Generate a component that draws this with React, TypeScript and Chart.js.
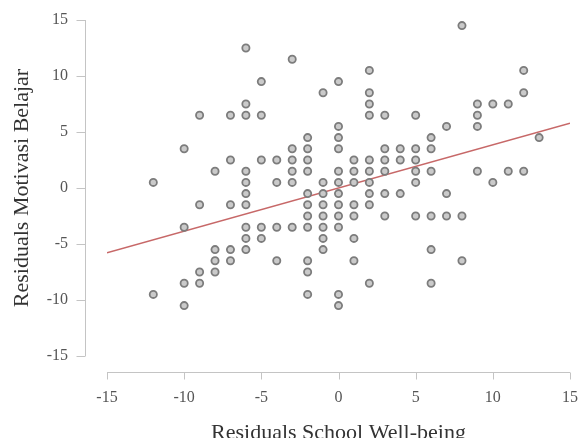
import React, { useEffect, useRef } from "react";
import { Chart, registerables } from "chart.js";

Chart.register(...registerables);

// Residuals School Well-being (x) and Residuals Motivasi Belajar (y)
const xValues: number[] = [
  -12, -12,
  -10, -10, -10, -10,
  -9, -9, -9, -9,
  -8, -8, -8, -8,
  -7, -7, -7, -7, -7,
  -6, -6, -6, -6, -6, -6, -6, -6, -6, -6,
  -5, -5, -5, -5, -5,
  -4, -4, -4, -4,
  -3, -3, -3, -3, -3, -3,
  -2, -2, -2, -2, -2, -2, -2, -2, -2, -2, -2,
  -1, -1, -1, -1, -1, -1, -1, -1,
  0, 0, 0, 0, 0, 0, 0, 0, 0, 0, 0, 0,
  1, 1, 1, 1, 1, 1, 1,
  2, 2, 2, 2, 2, 2, 2, 2, 2, 2,
  3, 3, 3, 3, 3, 3,
  4, 4, 4,
  5, 5, 5, 5, 5, 5,
  6, 6, 6, 6, 6, 6,
  7, 7, 7,
  8, 8, 8,
  9, 9, 9, 9,
  10, 10,
  11, 11,
  12, 12, 12,
  13,
];

const yValues: number[] = [
  0.5, -9.5,
  3.5, -3.5, -8.5, -10.5,
  6.5, -1.5, -7.5, -8.5,
  1.5, -5.5, -6.5, -7.5,
  6.5, 2.5, -1.5, -5.5, -6.5,
  12.5, 7.5, 6.5, 1.5, 0.5, -0.5, -1.5, -3.5, -4.5, -5.5,
  9.5, 6.5, 2.5, -3.5, -4.5,
  2.5, 0.5, -3.5, -6.5,
  11.5, 3.5, 2.5, 1.5, 0.5, -3.5,
  4.5, 3.5, 2.5, 1.5, -0.5, -1.5, -2.5, -3.5, -6.5, -7.5, -9.5,
  8.5, 0.5, -0.5, -1.5, -2.5, -3.5, -4.5, -5.5,
  9.5, 5.5, 4.5, 3.5, 1.5, 0.5, -0.5, -1.5, -2.5, -3.5, -9.5, -10.5,
  2.5, 1.5, 0.5, -1.5, -2.5, -4.5, -6.5,
  10.5, 8.5, 7.5, 6.5, 2.5, 1.5, 0.5, -0.5, -1.5, -8.5,
  6.5, 3.5, 2.5, 1.5, -0.5, -2.5,
  3.5, 2.5, -0.5,
  6.5, 3.5, 2.5, 1.5, 0.5, -2.5,
  4.5, 3.5, 1.5, -2.5, -5.5, -8.5,
  5.5, -0.5, -2.5,
  14.5, -2.5, -6.5,
  7.5, 6.5, 5.5, 1.5,
  7.5, 0.5,
  7.5, 1.5,
  10.5, 8.5, 1.5,
  4.5,
];

// Regression line end points
const fitX: number[] = [-15, 15];
const fitY: number[] = [-5.78, 5.78];

const xTicks: number[] = [-15, -10, -5, 0, 5, 10, 15];
const yTicks: number[] = [-15, -10, -5, 0, 5, 10, 15];

const xTitle = "Residuals School Well-being";
const yTitle = "Residuals Motivasi Belajar";

const FONT = "'Liberation Serif', 'Times New Roman', serif";

const axesPlugin = {
  id: "detachedAxes",
  afterDraw(chart: any) {
    const { ctx, chartArea } = chart;
    const xs = chart.scales.x;
    const ys = chart.scales.y;
    ctx.save();
    ctx.strokeStyle = "#c4c4c4";
    ctx.lineWidth = 1;
    const yLineX = Math.round(chartArea.left - 22) + 0.5;
    const xLineY = Math.round(chartArea.bottom + 16) + 0.5;
    ctx.beginPath();
    ctx.moveTo(yLineX, ys.getPixelForValue(yTicks[yTicks.length - 1]));
    ctx.lineTo(yLineX, ys.getPixelForValue(yTicks[0]));
    yTicks.forEach((v) => {
      const p = Math.round(ys.getPixelForValue(v)) + 0.5;
      ctx.moveTo(yLineX - 9, p);
      ctx.lineTo(yLineX, p);
    });
    ctx.moveTo(xs.getPixelForValue(xTicks[0]), xLineY);
    ctx.lineTo(xs.getPixelForValue(xTicks[xTicks.length - 1]), xLineY);
    xTicks.forEach((v) => {
      const p = Math.round(xs.getPixelForValue(v)) + 0.5;
      ctx.moveTo(p, xLineY);
      ctx.lineTo(p, xLineY + 7);
    });
    ctx.stroke();
    ctx.restore();
  },
};

export default function App() {
  const canvasRef = useRef<HTMLCanvasElement | null>(null);

  useEffect(() => {
    const canvas = canvasRef.current;
    if (!canvas) return;
    const points = xValues.map((x, i) => ({ x, y: yValues[i] }));
    const line = fitX.map((x, i) => ({ x, y: fitY[i] }));
    const chart = new Chart(canvas, {
      type: "scatter",
      data: {
        datasets: [
          {
            type: "line",
            data: line,
            borderColor: "rgba(196,96,96,0.95)",
            borderWidth: 1.6,
            pointRadius: 0,
            fill: false,
            order: 2,
          } as any,
          {
            data: points,
            pointRadius: 3.6,
            pointBorderWidth: 1.8,
            pointBackgroundColor: "#cacaca",
            pointBorderColor: "#7c7c7c",
            order: 1,
          },
        ],
      },
      options: {
        responsive: false,
        animation: false,
        layout: { padding: { top: 20, right: 9, left: 0, bottom: 0 } },
        plugins: {
          legend: { display: false },
          tooltip: { enabled: false },
        },
        scales: {
          x: {
            type: "linear",
            min: -15,
            max: 15,
            afterFit: (s: any) => {
              s.height = 82;
              s.paddingLeft = 0;
              s.paddingRight = 0;
            },
            afterBuildTicks: (s: any) => {
              s.ticks = xTicks.map((v) => ({ value: v }));
            },
            grid: { display: false, drawTicks: false },
            border: { display: false },
            ticks: {
              padding: 32,
              color: "#555",
              font: { family: FONT, size: 16 },
              callback: (v: any) => String(v),
            },
            title: {
              display: true,
              text: xTitle,
              color: "#333",
              font: { family: FONT, size: 22, lineHeight: 1 },
              padding: { top: 0, bottom: -6 },
            },
          },
          y: {
            type: "linear",
            min: -15,
            max: 15,
            afterFit: (s: any) => {
              s.width = 107;
              s.paddingTop = 0;
              s.paddingBottom = 0;
            },
            afterBuildTicks: (s: any) => {
              s.ticks = yTicks.map((v) => ({ value: v }));
            },
            grid: { display: false, drawTicks: false },
            border: { display: false },
            ticks: {
              padding: 39,
              color: "#555",
              font: { family: FONT, size: 16 },
              callback: (v: any) => String(v),
            },
            title: {
              display: true,
              text: yTitle,
              color: "#333",
              font: { family: FONT, size: 22, lineHeight: 1 },
              padding: { top: 11, bottom: 0 },
            },
          },
        },
      },
      plugins: [axesPlugin],
    });
    return () => chart.destroy();
  }, []);

  return (
    <div style={{ position: "fixed", left: 0, top: 0, width: 579, height: 438, background: "#fff" }}>
      <canvas ref={canvasRef} width={579} height={438} style={{ display: "block" }} />
    </div>
  );
}
